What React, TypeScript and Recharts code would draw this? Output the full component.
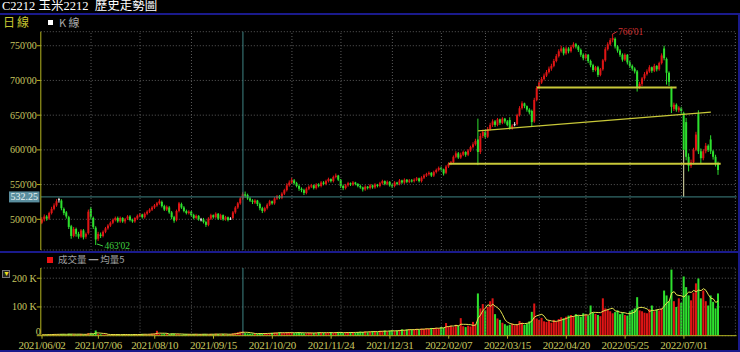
import React from 'react';
import { ComposedChart, Bar, Line, XAxis, YAxis, CartesianGrid, ReferenceLine, ReferenceDot } from 'recharts';

// ---------- DATA ----------
const opens = [
  495,500,504,501,509,515,520,529,527,515,
  510,503,490,476,486,479,475,484,475,480,
  515,502,488,472,478,476,482,487,491,495,
  499,502,497,502,497,501,504,499,497,501,
  505,507,503,508,511,514,517,520,523,525,
  519,514,517,510,503,499,512,522,517,512,
  509,511,506,502,505,500,500,496,492,501,
  506,503,508,501,506,500,503,501,502,510,
  517,523,530,536,535,530,527,524,527,522,
  516,512,516,521,526,523,530,533,531,537,
  542,549,553,556,552,548,544,542,538,544,
  547,549,545,550,548,553,551,555,558,555,
  561,563,557,548,545,549,552,550,553,551,
  548,546,543,547,545,549,546,550,548,552,
  555,551,554,549,548,553,551,556,553,557,
  554,556,555,557,559,555,560,563,565,567,
  563,568,571,574,572,567,576,580,582,590,
  595,589,593,597,593,599,604,608,615,597,
  620,626,619,630,636,641,636,644,639,645,
  641,643,631,637,637,650,660,667,663,658,
  656,641,672,689,697,702,707,712,717,721,
  728,735,742,746,739,746,742,748,752,749,
  744,737,732,737,728,722,715,719,708,716,
  729,745,752,758,760,749,743,737,730,737,
  726,721,717,713,690,695,703,709,713,719,
  714,721,716,725,746,731,711,689,659,665,
  657,660,653,640,590,577,582,600,652,598,
  588,598,606,615,598,590,580,
];
const highs = [
  503,507,506,511,518,523,529,531,529,517,
  512,505,492,489,488,482,486,486,481,514,
  518,504,490,482,481,484,489,493,497,501,
  504,504,504,503,502,506,506,501,503,507,
  509,508,510,513,516,519,522,525,529,527,
  521,520,519,512,505,514,525,524,519,514,
  513,512,508,507,506,502,502,498,503,508,
  507,510,509,508,507,505,504,503,512,519,
  525,532,539,540,537,532,529,529,528,524,
  518,518,523,528,527,532,535,535,539,544,
  552,556,560,558,554,550,546,544,546,549,
  551,550,552,552,555,555,557,560,559,563,
  566,564,558,550,551,554,553,555,554,552,
  550,547,549,548,551,550,552,551,554,557,
  556,556,555,551,555,554,558,557,559,558,
  558,558,559,561,560,562,565,567,569,568,
  570,573,576,576,573,578,582,584,592,598,
  597,596,599,598,601,606,611,616,645,624,
  629,628,633,639,644,643,646,645,647,646,
  643,647,637,640,652,663,670,668,664,660,
  658,675,692,700,705,710,715,720,724,731,
  738,745,750,748,749,748,751,755,754,751,
  746,739,739,738,730,724,721,721,718,731,
  748,755,761,766.01,762,751,745,739,739,738,
  728,723,719,715,698,705,712,716,722,720,
  724,722,727,739,750,733,713,691,668,667,
  663,662,655,646,595,586,603,626,657,602,
  601,610,608,621,600,593,583,
];
const lows = [
  493,497,498,499,507,513,518,524,513,506,
  501,486,472,474,475,472,473,471,472,478,
  500,486,463.02,469,473,474,480,485,489,493,
  497,495,495,495,494,499,497,495,495,499,
  503,501,501,506,509,512,515,518,521,517,
  512,512,508,500,495,497,510,515,510,507,
  507,504,500,500,498,497,494,489,490,499,
  501,501,499,499,498,498,497,499,500,508,
  515,521,528,531,528,525,522,522,519,513,
  509,510,514,519,521,521,528,529,529,535,
  540,547,551,550,546,541,539,535,536,542,
  545,543,543,546,546,549,549,553,553,553,
  559,555,545,542,543,547,548,548,549,546,
  544,540,541,543,543,544,544,546,546,550,
  549,549,547,545,546,549,549,551,551,552,
  552,553,553,555,553,553,558,561,563,561,
  561,566,569,570,563,565,574,578,580,588,
  587,587,591,590,591,597,602,606,578,594,
  617,616,617,628,633,633,634,636,637,638,
  634,629,629,634,635,648,658,660,655,651,
  633,639,670,687,695,700,705,710,714,719,
  726,733,740,736,737,739,740,746,746,741,
  734,729,730,725,719,712,713,705,706,714,
  727,743,750,755,746,740,734,727,728,723,
  718,714,710,684,688,692,701,707,711,711,
  712,713,714,723,729,694,692,653,656,655,
  654,652,532.25,585,569,574,579,598,594,581,
  585,595,597,594,586,576,564,
];
const closes = [
  500,504,501,509,515,520,526,529,516,509,
  504,489,476,486,479,475,484,474,479,511,
  503,489,471,479,476,482,487,491,495,499,
  502,497,502,497,500,504,499,497,502,505,
  507,503,508,511,514,517,520,523,526,519,
  514,518,510,503,498,512,523,517,512,509,
  511,506,502,505,500,500,496,492,501,506,
  503,508,501,506,500,503,499,501,510,517,
  523,530,536,534,530,527,525,527,522,516,
  512,516,521,526,523,530,533,531,537,542,
  549,553,557,552,548,544,542,538,544,547,
  549,545,550,548,553,551,555,558,555,561,
  563,557,548,545,549,552,550,553,551,548,
  546,543,547,545,549,546,550,548,552,555,
  551,554,549,548,553,551,556,553,557,554,
  556,555,557,559,555,560,563,565,567,563,
  568,571,574,572,566,576,580,582,590,595,
  589,593,597,593,599,604,608,613,597,620,
  626,619,630,636,641,636,644,639,645,641,
  636,631,635,637,650,660,667,663,658,654,
  640,672,689,697,702,707,712,717,721,728,
  735,742,746,739,746,742,748,752,749,744,
  737,732,737,728,722,715,719,708,716,729,
  745,752,758,761,749,743,737,730,737,726,
  721,717,713,690,695,703,709,713,719,714,
  721,716,725,736,732,711,698,662,665,658,
  661,656,600,590,577,582,600,622,598,588,
  598,606,600,598,590,580,571,
];
// volume in thousands
const volumesK = [
  3,4,3,5,4,6,5,4,6,5,
  4,7,6,5,4,5,6,4,5,9,
  8,7,18,6,5,4,5,4,3,4,
  5,4,3,4,5,4,3,4,5,4,
  5,6,5,4,6,7,8,17,6,5,
  7,6,5,8,7,6,5,4,5,6,
  5,4,5,6,4,5,6,5,4,6,
  5,7,6,5,6,5,4,6,8,10,
  12,14,15,9,8,7,8,6,7,9,
  8,7,8,9,10,11,10,12,9,10,
  11,12,10,9,11,12,10,8,9,10,
  11,9,10,12,11,10,9,11,12,10,
  11,13,10,9,11,12,13,11,10,12,
  14,13,15,12,14,16,15,13,17,16,
  18,15,17,19,16,18,20,22,19,21,
  23,20,22,24,21,25,23,26,24,27,
  25,28,26,30,27,44,32,35,30,38,
  36,61,33,30,35,32,48,40,147,95,
  110,88,100,120,130,75,60,55,45,40,
  35,38,42,36,40,51,45,38,42,50,
  83,112,60,55,62,50,48,52,45,55,
  50,58,64,60,66,70,72,68,75,70,
  66,78,74,70,105,80,76,72,68,130,
  95,90,85,78,82,88,75,80,72,70,
  85,90,95,134,88,85,80,78,92,105,
  85,90,88,95,157,140,120,230,120,100,
  130,115,206,169,140,123,150,182,199,130,
  157,120,105,140,118,95,147,
];

const tickIndex = [0, 23, 46, 70, 94, 118, 142, 166, 190, 214, 238, 262];
const tickLabels = ['2021/06/02','2021/07/06','2021/08/10','2021/09/15','2021/10/20','2021/11/24','2021/12/31','2022/02/07','2022/03/15','2022/04/20','2022/05/25','2022/07/01'];
const monthGridIdx = [20, 40, 61, 102, 122, 143, 163, 181, 203, 222, 240, 261, 283];
const markerIdx = 82;
const refPrice = 532.25;
const priceTicks = [500, 550, 600, 650, 700, 750];
const volTicks = [0, 100, 200];
const hiMark = { idx: 233, value: 766.01, label: "766'01" };
const loMark = { idx: 22, value: 463.02, label: "463'02" };
const flatLines = [
  { from: 166, to: 277, y: 580 },
  { from: 202, to: 259, y: 690 },
];
const slopeLine = { from: 178, y1: 627.4, to: 273, y2: 654.4 };
const paleWickIdx = [262];
const TOTAL_SLOTS = 284;

// ---------- STYLE ----------
const RED = '#e01515';
const GREEN = '#2ee02e';
const WHITE = '#f0f0f0';
const AXIS = '#b4b420';
const TICK = '#c8c860';
const GRID = '#5a5a5a';
const TEAL = '#3f8484';
const TREND = '#c8c838';
const NAVY = '#1a1a8c';
const SERIF = '"Liberation Serif", "Times New Roman", serif';

const rows = Array.from({ length: TOTAL_SLOTS }, (_, i) => {
  if (i >= closes.length) return { i };
  let s = 0, n = 0;
  for (let k = Math.max(0, i - 4); k <= i; k++) { s += volumesK[k]; n++; }
  return {
    i,
    o: opens[i], h: highs[i], l: lows[i], c: closes[i],
    range: [lows[i], highs[i]],
    v: volumesK[i],
    ma5: s / n,
    pale: paleWickIdx.includes(i),
  };
});

const colorOf = (p: any) => (p.c > p.o ? RED : p.c < p.o ? GREEN : WHITE);

const Candle = (props: any) => {
  const { x, y, width, height, payload } = props;
  if (!payload || payload.o == null) return null;
  const { o, h, l, c } = payload;
  const top = Math.min(y, y + height);
  const hh = Math.abs(height);
  const pix = (v: number) => (h === l ? top : top + ((h - v) / (h - l)) * hh);
  const cx = x + width / 2;
  const col = colorOf(payload);
  const yo = pix(o), yc = pix(c);
  const bTop = Math.min(yo, yc);
  const bH = Math.max(1, Math.abs(yo - yc));
  if (payload.pale) {
    return (
      <g>
        <line x1={cx} x2={cx} y1={top} y2={bTop} stroke={col} strokeWidth={1} />
        <line x1={cx} x2={cx} y1={bTop + bH} y2={top + hh} stroke="#e8e8b0" strokeWidth={1} />
        <rect x={x} y={bTop} width={width} height={bH} fill={col} />
      </g>
    );
  }
  return (
    <g>
      <line x1={cx} x2={cx} y1={top} y2={top + hh} stroke={col} strokeWidth={1} />
      <rect x={x} y={bTop} width={width} height={bH} fill={col} />
    </g>
  );
};

const VolBar = (props: any) => {
  const { x, y, width, height, payload } = props;
  if (!payload || payload.v == null) return null;
  const col = payload.c >= payload.o ? RED : GREEN;
  return <rect x={x} y={Math.min(y, y + height)} width={width} height={Math.abs(height)} fill={col} />;
};

const RefBadge = (props: any) => {
  const vb = props.viewBox || {};
  const yy = vb.y;
  return (
    <g>
      <rect x={9} y={yy - 5.5} width={30.5} height={11} fill="#5a8e9e" />
      <text x={24.2} y={yy + 3.5} textAnchor="middle" fontSize={10} fontFamily={SERIF} fill="#e6f2f2">532.25</text>
    </g>
  );
};

const HiShape = (props: any) => {
  const { cx, cy } = props;
  if (cx == null) return null;
  return (
    <g>
      <line x1={cx - 1} y1={cy} x2={cx + 4} y2={cy - 3} stroke="#d03030" strokeWidth={1} />
      <text x={cx + 5} y={cy - 0} fontSize={9.5} fontFamily={SERIF} fill="#d03030">{hiMark.label}</text>
    </g>
  );
};

const LoShape = (props: any) => {
  const { cx, cy } = props;
  if (cx == null) return null;
  return (
    <g>
      <line x1={cx + 1} y1={cy - 1} x2={cx + 7} y2={cy + 1} stroke="#40d040" strokeWidth={1} />
      <text x={cx + 8.5} y={cy + 4.5} fontSize={9.5} fontFamily={SERIF} fill="#40d040">{loMark.label}</text>
    </g>
  );
};

const DateTick = (props: any) => {
  const { x, y, payload } = props;
  const k = tickIndex.indexOf(payload.value);
  if (k < 0) return null;
  return (
    <g>
      <line x1={x} x2={x} y1={y} y2={y + 3} stroke={AXIS} strokeWidth={1} />
      <text x={x} y={y + 13} textAnchor="middle" fontSize={11} letterSpacing={-0.3} fontFamily={SERIF} fill={TICK}>{tickLabels[k]}</text>
    </g>
  );
};

const VolTick = (props: any) => {
  const { x, y, payload } = props;
  const v = payload.value;
  const isZero = v === 0;
  return (
    <text
      x={isZero ? x + 4 : x}
      y={isZero ? y - 0.5 : y + 3.5}
      textAnchor="end"
      fontSize={10}
      fontFamily={SERIF}
      fill={TICK}
    >
      {isZero ? '0' : `${v} K`}
    </text>
  );
};

const grids = (top: boolean) =>
  monthGridIdx.map((g) => (
    <ReferenceLine key={`g${g}${top}`} x={g} stroke={GRID} strokeDasharray="1 2" ifOverflow="extendDomain" />
  ));

export default function App() {
  return (
    <div style={{ position: 'absolute', left: 0, top: 0, width: 740, height: 352, background: '#000', overflow: 'hidden', fontFamily: SERIF }}>
      {/* title bar */}
      <div style={{ position: 'absolute', left: 2, top: -1, fontSize: 12.5, lineHeight: '14px', color: '#ffffff', whiteSpace: 'pre', fontFamily: '"Liberation Serif", "Noto Sans CJK TC", serif' }}>
        C2212 玉米2212  歷史走勢圖
      </div>
      <div style={{ position: 'absolute', left: 0, top: 13, width: 740, height: 2, background: NAVY }} />
      {/* price header */}
      <div style={{ position: 'absolute', left: 3, top: 15, fontSize: 12, lineHeight: '14px', color: '#c8c832', letterSpacing: 2, fontFamily: '"Noto Sans CJK TC", sans-serif' }}>日線</div>
      <div style={{ position: 'absolute', left: 48, top: 19.5, width: 5, height: 5, background: '#ffffff' }} />
      <div style={{ position: 'absolute', left: 59, top: 15, fontSize: 11, lineHeight: '14px', color: '#a8a8a8', whiteSpace: 'pre', fontFamily: '"Noto Sans CJK TC", sans-serif' }}>K 線</div>

      {/* price chart */}
      <div style={{ position: 'absolute', left: 0, top: 0 }}>
        <ComposedChart width={740} height={252} data={rows} margin={{ top: 31.7, right: 3.4, bottom: 2, left: 0 }} barCategoryGap={0}>
          <CartesianGrid vertical={false} stroke={GRID} strokeDasharray="1 2" />
          <XAxis dataKey="i" hide />
          <YAxis
            width={40.8}
            domain={[455.8, 770.2]}
            allowDataOverflow
            ticks={priceTicks}
            tickFormatter={(v: number) => `${v}'00`}
            tick={{ fill: TICK, fontSize: 10, fontFamily: SERIF }}
            tickSize={4}
            tickMargin={0}
            axisLine={{ stroke: AXIS }}
            tickLine={{ stroke: AXIS }}
          />
          {grids(true)}
          <ReferenceLine x={markerIdx} stroke={TEAL} strokeWidth={1} />
          <ReferenceLine y={refPrice} stroke={TEAL} strokeWidth={1} label={<RefBadge />} />
          <Bar dataKey="range" barSize={2} shape={<Candle />} isAnimationActive={false} />
          {flatLines.map((f, k) => (
            <ReferenceLine key={`f${k}`} segment={[{ x: f.from, y: f.y }, { x: f.to, y: f.y }]} stroke={TREND} strokeWidth={2} />
          ))}
          <ReferenceLine segment={[{ x: slopeLine.from, y: slopeLine.y1 }, { x: slopeLine.to, y: slopeLine.y2 }]} stroke={TREND} strokeWidth={1.3} />
          <ReferenceDot x={hiMark.idx} y={hiMark.value} r={0} shape={<HiShape />} />
          <ReferenceDot x={loMark.idx} y={loMark.value} r={0} shape={<LoShape />} />
        </ComposedChart>
      </div>

      <div style={{ position: 'absolute', left: 0, top: 251, width: 740, height: 2, background: NAVY }} />

      {/* volume header */}
      <div style={{ position: 'absolute', left: 47, top: 257, width: 6, height: 6, background: '#ee1111' }} />
      <div style={{ position: 'absolute', left: 58, top: 253, fontSize: 9.5, lineHeight: '13px', color: '#a0a0a0', whiteSpace: 'pre', fontFamily: '"Noto Sans CJK TC", sans-serif' }}>成交量 ━ 均量5</div>
      <div style={{ position: 'absolute', left: 2, top: 270, width: 8, height: 8, border: '1px solid #777', background: '#222', boxSizing: 'border-box', color: '#f0e020', fontSize: 7, lineHeight: '7px', textAlign: 'center' }}>▼</div>

      {/* volume chart */}
      <div style={{ position: 'absolute', left: 0, top: 252 }}>
        <ComposedChart width={740} height={100} data={rows} margin={{ top: 16, right: 3.4, bottom: 0, left: 0 }} barCategoryGap={0}>
          <CartesianGrid vertical={false} stroke={GRID} strokeDasharray="1 2" />
          <XAxis
            dataKey="i"
            height={16.3}
            interval={0}
            tick={<DateTick />}
            tickLine={false}
            axisLine={{ stroke: AXIS }}
            tickSize={0}
            tickMargin={0}
          />
          <YAxis
            width={40.8}
            domain={[0, 235.5]}
            allowDataOverflow
            ticks={volTicks}
            tick={<VolTick />}
            tickSize={4}
            tickMargin={0}
            axisLine={{ stroke: AXIS }}
            tickLine={{ stroke: AXIS }}
          />
          {grids(false)}
          <ReferenceLine x={markerIdx} stroke={TEAL} strokeWidth={1} />
          <Bar dataKey="v" barSize={2} shape={<VolBar />} isAnimationActive={false} />
          <Line dataKey="ma5" stroke="#e4e450" strokeWidth={1} dot={false} isAnimationActive={false} />
        </ComposedChart>
      </div>

      {/* frame edges */}
      <div style={{ position: 'absolute', left: 738, top: 13, width: 2, height: 339, background: NAVY }} />
      <div style={{ position: 'absolute', left: 0, top: 350, width: 740, height: 2, background: NAVY }} />
    </div>
  );
}
